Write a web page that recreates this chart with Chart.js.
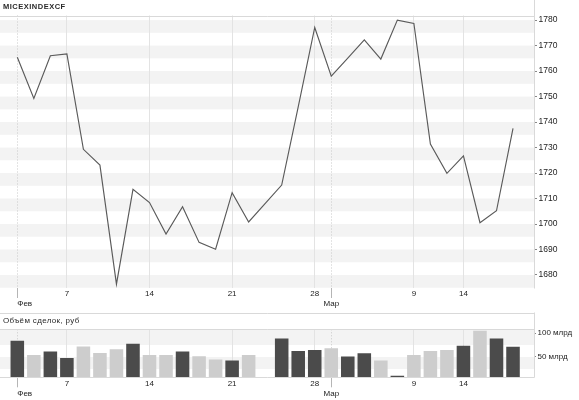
<!DOCTYPE html>
<html><head><meta charset="utf-8">
<script src="https://cdn.jsdelivr.net/npm/chart.js@4.4.1/dist/chart.umd.min.js"></script>
<style>
html,body{margin:0;padding:0;background:#fff;width:579px;height:400px;overflow:hidden;}
canvas{position:absolute;left:0;}
#c1{top:0;}
#c2{top:312px;}
.ttl{position:absolute;left:3px;font-family:"Liberation Sans",Arial,sans-serif;color:#2a2a2a;white-space:nowrap;line-height:10px;}
#t1{top:2.4px;font-size:7.5px;font-weight:bold;letter-spacing:0.5px;}
#t2{top:316px;font-size:8px;letter-spacing:0.35px;}
</style></head>
<body>
<canvas id="c1" width="579" height="312" style="width:579px;height:312px"></canvas>
<canvas id="c2" width="579" height="88" style="width:579px;height:88px"></canvas>
<div class="ttl" id="t1">MICEXINDEXCF</div>
<div class="ttl" id="t2">Объём сделок, руб</div>
<script>
// ---- data ----
const dates = ['02.02','03.02','04.02','07.02','08.02','09.02','10.02','11.02','14.02','15.02',
  '16.02','17.02','18.02','21.02','22.02','23.02','24.02','25.02','28.02','01.03',
  '02.03','03.03','04.03','05.03','09.03','10.03','11.03','14.03','15.03','16.03','17.03'];
const prices = [1765.4,1749.3,1766.0,1766.7,1729.3,1723.1,1676.4,1713.6,1708.4,1696.1,
  1706.8,1692.8,1690.1,1712.3,1700.8,null,1715.3,1746.0,1777.1,1758.0,
  1765.1,1772.2,1764.7,1780.0,1778.7,1731.4,1719.9,1726.7,1700.5,1705.2,1737.5];
const volumes = [83.8,54.2,61.4,47.9,71.9,58.4,66.2,77.4,54.2,54.2,
  61.4,51.5,44.5,42.4,54.2,null,88.8,62.7,64.8,68.4,
  50.8,57.8,42.4,10.8,54.2,62.7,64.8,73.2,104.9,88.8,71.1];
const priceTicks = [1680,1690,1700,1710,1720,1730,1740,1750,1760,1770,1780];
const volumeTicks = [50,100];
const volumeTickLabels = ['50 млрд','100 млрд'];
const xTickIndex = [0,3,8,13,18,19,24,27];
const xTickText = ['Фев','7','14','21','28','Мар','9','14'];
const monthNames = ['Фев','Мар'];

// ---- helpers ----
const FONT = '"Liberation Sans", Arial, sans-serif';
const X_MIN = -1.048, X_MAX = 31.27;
const tickText = v => xTickText[xTickIndex.indexOf(v)];
const isMonth = v => monthNames.includes(tickText(v));
const isReal = v => xTickIndex.includes(v);
const DARK = '#4b4b4b', LIGHT = '#cdcdcd';
const barColors = [];
{ let prev = null;
  prices.forEach(p => {
    if (p == null) { barColors.push(LIGHT); return; }
    barColors.push(prev == null || p >= prev ? DARK : LIGHT);
    prev = p;
  });
}

const decor = {
  id: 'decor',
  beforeDraw(chart, args, o) {
    const {ctx, chartArea: a, scales: {y}} = chart;
    ctx.save();
    ctx.fillStyle = o.bandColor;
    for (const [lo, hi] of o.bands) {
      const t = Math.max(a.top, y.getPixelForValue(hi));
      const b = Math.min(a.bottom, y.getPixelForValue(lo));
      if (b > t) ctx.fillRect(a.left, t, a.right - a.left, b - t);
    }
    ctx.restore();
  },
  afterDraw(chart, args, o) {
    const {ctx, chartArea: a} = chart;
    ctx.save();
    ctx.strokeStyle = o.lineColor; ctx.lineWidth = 1;
    ctx.beginPath();
    for (const yy of o.hLines) {
      const v = Math.round(yy === 'top' ? a.top : yy === 'bottom' ? a.bottom : yy) + 0.5;
      ctx.moveTo(0, v); ctx.lineTo(Math.round(a.right) + 0.5, v);
    }
    const xr = Math.round(a.right) + 0.5;
    ctx.moveTo(xr, o.rightFrom); ctx.lineTo(xr, Math.round(a.bottom) + 0.5);
    ctx.stroke();
    ctx.restore();
  }
};

function xScale(h) {
  return {
    type: 'linear', min: X_MIN, max: X_MAX, offset: false,
    afterBuildTicks: s => { s.ticks = xTickIndex.map(v => ({value: v})).concat([{value: X_MAX}]); },
    afterFit: s => { s.height = h; },
    ticks: {
      autoSkip: false, maxRotation: 0, padding: -8.8, color: '#222', align: 'inner',
      font: {family: FONT, size: 8, lineHeight: 1.25},
      callback: v => { if (!isReal(v)) return ''; const t = tickText(v); return monthNames.includes(t) ? ['', t] : t; }
    },
    grid: {
      offset: false, drawOnChartArea: true, drawTicks: true, tickLength: 10, lineWidth: 1,
      color: c => !(c.tick && isReal(c.tick.value)) ? 'rgba(0,0,0,0)' : isMonth(c.tick.value) ? '#c8c8c8' : '#e3e3e3',
      tickColor: c => (c.tick && isMonth(c.tick.value)) ? '#b5b5b5' : 'rgba(0,0,0,0)',
      tickBorderDash: []
    },
    border: { display: false, dash: c => (c.tick && isMonth(c.tick.value)) ? [1, 2] : [] }
  };
}

const common = {
  responsive: false, maintainAspectRatio: false, animation: false, devicePixelRatio: 1, events: [],
};

new Chart(document.getElementById('c1'), {
  type: 'line',
  data: { datasets: [{
    data: prices.map((p, i) => ({x: i, y: p})),
    borderColor: '#5a5a5a', borderWidth: 1.15, pointRadius: 0, tension: 0, spanGaps: true, fill: false
  }]},
  options: Object.assign({}, common, {
    layout: {padding: {top: 15.5, left: 0, right: 0, bottom: 0}},
    scales: {
      x: xScale(24),
      y: {
        type: 'linear', position: 'right', min: 1674.9, max: 1781.8,
        afterBuildTicks: s => { s.ticks = priceTicks.map(v => ({value: v})); },
        afterFit: s => { s.width = 45; },
        ticks: { padding: 1.5, color: '#222', font: {family: FONT, size: 8.5}, callback: v => String(v) },
        grid: { drawOnChartArea: false, drawTicks: true, tickLength: 3, tickColor: '#888' },
        border: { display: false }
      }
    },
    plugins: {
      legend: {display: false}, tooltip: {enabled: false},
      decor: {
        bandColor: '#f3f3f3', lineColor: '#d9d9d9',
        bands: priceTicks.map(t => [t - 5, t]),
        hLines: ['top'], rightFrom: 0
      }
    }
  }),
  plugins: [decor]
});

new Chart(document.getElementById('c2'), {
  type: 'bar',
  data: { datasets: [{
    data: volumes.map((v, i) => ({x: i, y: v})),
    backgroundColor: barColors, borderWidth: 0,
    barPercentage: 0.82, categoryPercentage: 1
  }]},
  options: Object.assign({}, common, {
    layout: {padding: {top: 17.3, left: 0, right: 0, bottom: 0}},
    scales: {
      x: xScale(22.7),
      y: {
        type: 'linear', position: 'right', min: 7.5, max: 107.8,
        afterBuildTicks: s => { s.ticks = volumeTicks.map(v => ({value: v})); },
        afterFit: s => { s.width = 45; },
        ticks: { padding: 1.5, color: '#222', font: {family: FONT, size: 8},
          callback: v => volumeTickLabels[volumeTicks.indexOf(v)] },
        grid: { drawOnChartArea: false, drawTicks: true, tickLength: 2, tickColor: '#888' },
        border: { display: false }
      }
    },
    plugins: {
      legend: {display: false}, tooltip: {enabled: false},
      decor: {
        bandColor: '#f3f3f3', lineColor: '#d9d9d9',
        bands: [[25, 50], [75, 125]],
        hLines: [0.5, 'top', 'bottom'], rightFrom: 0.5
      }
    }
  }),
  plugins: [decor]
});
</script>
</body></html>
